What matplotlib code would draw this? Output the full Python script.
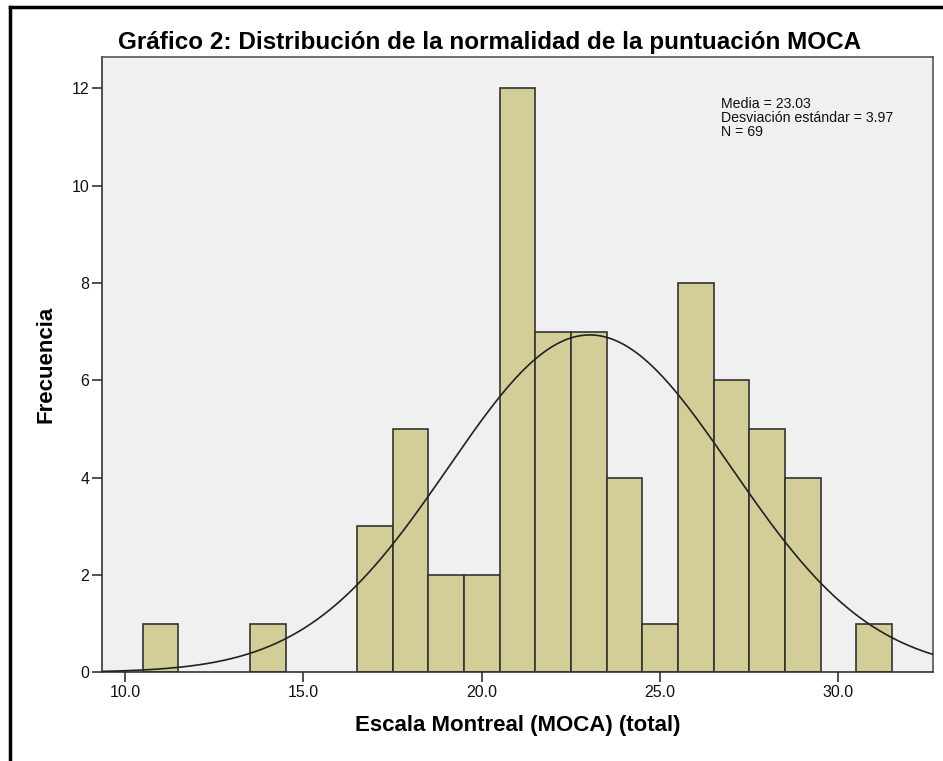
import numpy as np
import matplotlib
matplotlib.use("Agg")
import matplotlib.pyplot as plt
from matplotlib.lines import Line2D

plt.rcParams['font.family'] = ['Liberation Sans', 'DejaVu Sans']

# Data: MOCA score bins (centre) and frequencies
scores = [11, 14, 17, 18, 19, 20, 21, 22, 23, 24, 25, 26, 27, 28, 29, 31]
counts = [1, 1, 3, 5, 2, 2, 12, 7, 7, 4, 1, 8, 6, 5, 4, 1]
mean_val = 23.03
sd_val = 3.97
n_val = 69
bin_width = 1.0
xticks = [10, 15, 20, 25, 30]
xtick_labels = ["10.0", "15.0", "20.0", "25.0", "30.0"]
yticks = [0, 2, 4, 6, 8, 10, 12]
stats_lines = ["Media = 23.03", "Desviación estándar = 3.97", "N = 69"]

fig = plt.figure(figsize=(9.43, 7.61), dpi=100)
ax = fig.add_axes([101.7/943, 1 - 672.3/761, (933.3 - 101.7)/943, (672.3 - 57.3)/761])
ax.set_facecolor('#f0f0f0')

ax.bar(scores, counts, width=bin_width, color='#d3ce98', edgecolor='#333333', linewidth=1.2, zorder=2)

xs = np.linspace(9.3, 32.7, 400)
pdf = n_val * bin_width / (sd_val * np.sqrt(2 * np.pi)) * np.exp(-0.5 * ((xs - mean_val) / sd_val) ** 2)
ax.plot(xs, pdf, color='#222222', linewidth=1.2, zorder=3)

ax.set_xlim(9.347, 32.66)
ax.set_ylim(0, 12.64)
ax.set_xticks(xticks)
ax.set_xticklabels(xtick_labels)
ax.set_yticks(yticks)
ax.tick_params(axis='both', direction='out', length=7, width=1.2, color='#333333',
               labelsize=11.5, pad=2, labelcolor='#111111')

for s in ax.spines.values():
    s.set_color('#555555')
    s.set_linewidth(1.2)
ax.spines['bottom'].set_color('#333333')
ax.spines['left'].set_color('#333333')

ax.set_xlabel("Escala Montreal (MOCA) (total)", fontsize=16, fontweight='bold', labelpad=11)
ax.set_ylabel("Frecuencia", fontsize=16, fontweight='bold', labelpad=11)
fig.text(490/943, 1 - 42/761, "Gráfico 2: Distribución de la normalidad de la puntuación MOCA",
         fontsize=17.5, fontweight='bold', ha='center', va='center')

for i, line in enumerate(stats_lines):
    fig.text(720.7/943, 1 - (108.5 + 13.5 * i)/761, line, fontsize=10.2, ha='left',
             va='baseline', color='#111111')

fig.add_artist(Line2D([10/943, 10/943], [0, 1 - 7/761], transform=fig.transFigure,
                      color='black', linewidth=2.5))
fig.add_artist(Line2D([10/943, 1], [1 - 7/761, 1 - 7/761], transform=fig.transFigure,
                      color='black', linewidth=2.5))

fig.savefig("out.png", dpi=100)
